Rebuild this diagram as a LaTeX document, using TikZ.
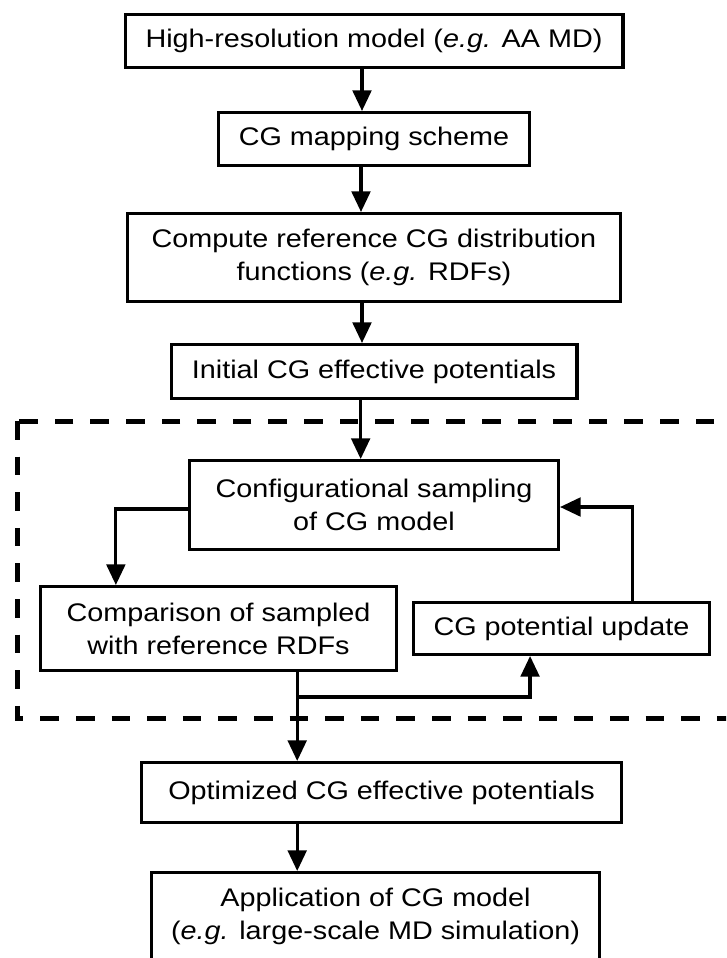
\documentclass[tikz,border=0pt]{standalone}
\usepackage{fontspec}
\setmainfont{Liberation Sans}[FakeStretch=1.13]
\usetikzlibrary{positioning, arrows.meta}

\begin{document}
\begin{tikzpicture}[x=0.75pt, y=-0.75pt]
		\tikzset{
			>={Triangle[length=15.5pt, width=14pt]},
			box/.style={draw, line width=2.5pt, inner sep=0pt, align=center, minimum height=39.5pt},
			flow/.style={->, line width=2.4pt},
			loopframe/.style={line width=3.75pt, dash pattern=on 13.9pt off 12.8pt},
			every node/.style={font=\fontsize{19.1pt}{24.75pt}\selectfont}
		}
		\useasboundingbox (0,0) rectangle (726,958);
		\clip (0,0) rectangle (726,958);
		
		% Preparation steps
		\node[box, minimum width=373.25pt] at (374,41) (model) {High-resolution model (\textit{e.g.} AA MD)};
		\node[box, minimum width=233pt, below=31.5pt of model] (mapping) {CG mapping scheme};
		\node[box, minimum width=369.5pt, minimum height=65.75pt, below=33.75pt of mapping] (refdist) {Compute reference CG distribution\\functions (\textit{e.g.} RDFs)};
		\node[box, minimum width=304.25pt, minimum height=40.25pt, below=30pt of refdist] (initpot) {Initial CG effective potentials};
		
		% Iteration loop
		\node[box, minimum width=276.5pt, minimum height=66.5pt, below=44.25pt of initpot] (sampling) {Configurational sampling\\of CG model};
		\node[box, minimum width=266.75pt, minimum height=62.75pt, below=25.5pt of sampling, xshift=-116.6pt] (compare) {Comparison of sampled\\with reference RDFs};
		\node[box, minimum width=221.75pt, minimum height=38.75pt, right=10.5pt of compare] (update) {CG potential update};
		
		% Results
		\node[box, minimum width=359.75pt, minimum height=44.75pt, below=66.75pt of compare, xshift=122.25pt] (optpot) {Optimized CG effective potentials};
		\node[box, minimum width=335.75pt, minimum height=65.75pt, below=35.25pt of optpot, xshift=-4.5pt] (application) {Application of CG model\\(\textit{e.g.} large-scale MD simulation)};
		
		\coordinate (split) at ([xshift=59pt, yshift=-18.75pt]compare.south);
		
		% Frame round the loop
		\draw[loopframe] (17,421) rectangle (745,718);
		
		% Draw arrows between nodes
		\draw[flow] ([xshift=-9pt]model.south) -- ([xshift=-9pt]model.south |- mapping.north);
		\draw[flow] ([xshift=-9.75pt]mapping.south) -- ([xshift=-9.75pt]mapping.south |- refdist.north);
		\draw[flow] ([xshift=-9pt]refdist.south) -- ([xshift=-9pt]refdist.south |- initpot.north);
		\draw[flow] ([xshift=-10pt]initpot.south) -- ([xshift=-10pt]initpot.south |- sampling.north);
		
		\draw[flow] ([yshift=-3pt]sampling.west) -| ([xshift=-77pt]compare.north);
		\draw[flow] ([xshift=53pt]update.north) |- ([yshift=-1.5pt]sampling.east);
		\draw[flow] ([xshift=59pt]compare.south) -- (split |- optpot.north);
		\draw[flow] (split) -| ([xshift=-23.6pt]update.south);
		
		\draw[flow] (split |- optpot.south) -- (split |- application.north);
		
	\end{tikzpicture}
\end{document}
